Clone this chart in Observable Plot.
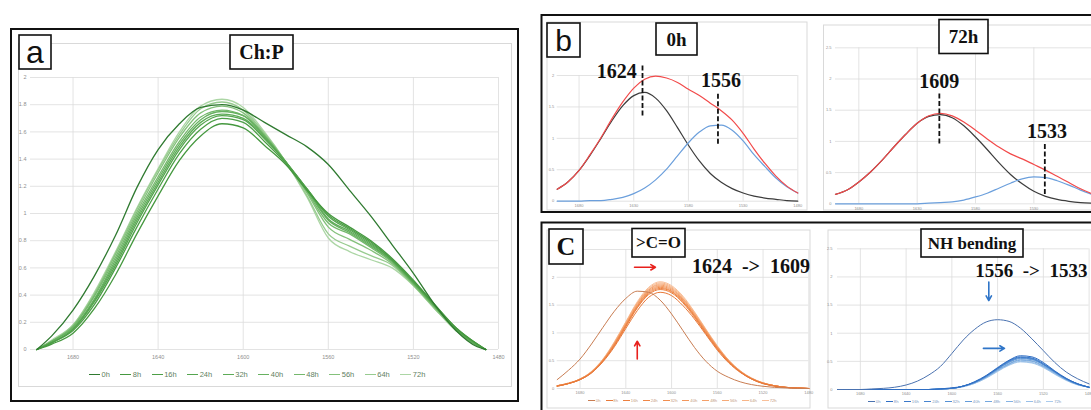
<!DOCTYPE html>
<html><head><meta charset="utf-8">
<script src="https://cdn.jsdelivr.net/npm/d3@7"></script>
<script src="https://cdn.jsdelivr.net/npm/@observablehq/plot@0.6"></script>
<style>
html,body{margin:0;padding:0;background:#fff;overflow:hidden;}
#root{position:relative;width:1091px;height:410px;overflow:hidden;background:#fff;}
.leg{position:absolute;display:flex;align-items:center;white-space:nowrap;font-family:"Liberation Sans",Arial,sans-serif;}
.leg .it{display:flex;align-items:center;}
.leg .sw{display:inline-block;}
svg text{white-space:pre;}
</style></head>
<body><div id="root"></div>
<script>
// ---------- shared ----------
const hours = ["0h","8h","16h","24h","32h","40h","48h","56h","64h","72h"];

// ---------- panel a : Ch:P ----------
const wnA = [1697,1690,1680,1670,1660,1650,1640,1630,1620,1610,1600,1590,1580,1570,1560,1550,1540,1530,1520,1510,1500,1490,1486];
const chp_0h  = [0,0.10,0.29,0.54,0.84,1.19,1.47,1.66,1.78,1.80,1.76,1.67,1.58,1.49,1.36,1.17,0.98,0.77,0.56,0.33,0.14,0.02,0];
const chp_8h  = [0,0.04,0.12,0.30,0.55,0.85,1.13,1.39,1.57,1.66,1.63,1.50,1.36,1.17,1.00,0.90,0.80,0.67,0.51,0.33,0.16,0.04,0];
const chp_16h = [0,0.05,0.14,0.33,0.60,0.90,1.18,1.44,1.62,1.70,1.67,1.53,1.37,1.18,0.99,0.89,0.79,0.66,0.50,0.33,0.16,0.04,0];
const chp_24h = [0,0.05,0.15,0.35,0.62,0.93,1.21,1.47,1.65,1.72,1.69,1.55,1.38,1.18,0.98,0.88,0.78,0.66,0.50,0.32,0.15,0.04,0];
const chp_32h = [0,0.05,0.15,0.36,0.64,0.95,1.23,1.49,1.67,1.73,1.70,1.56,1.38,1.18,0.96,0.87,0.77,0.65,0.49,0.32,0.15,0.03,0];
const chp_40h = [0,0.06,0.16,0.37,0.66,0.97,1.25,1.51,1.69,1.75,1.72,1.57,1.38,1.17,0.95,0.86,0.76,0.65,0.49,0.32,0.15,0.03,0];
const chp_48h = [0,0.06,0.17,0.39,0.68,0.99,1.27,1.53,1.71,1.76,1.72,1.57,1.38,1.16,0.93,0.85,0.75,0.64,0.48,0.31,0.15,0.03,0];
const chp_56h = [0,0.06,0.17,0.40,0.70,1.01,1.30,1.56,1.74,1.79,1.74,1.58,1.38,1.15,0.90,0.81,0.73,0.63,0.48,0.31,0.14,0.03,0];
const chp_64h = [0,0.06,0.18,0.41,0.71,1.03,1.32,1.58,1.77,1.82,1.76,1.59,1.38,1.13,0.85,0.76,0.69,0.62,0.47,0.30,0.14,0.03,0];
const chp_72h = [0,0.07,0.18,0.42,0.72,1.04,1.33,1.60,1.79,1.84,1.78,1.60,1.38,1.12,0.82,0.72,0.66,0.60,0.47,0.30,0.14,0.03,0];
const colorsA = ["#2f7a30","#45983f","#4d9f47","#55a54f","#5dab57","#67b160","#74b86c","#84c17b","#97cb8f","#acd6a5"];
const xTicksA = [1680,1640,1600,1560,1520,1480];
const yTicksA = [0,0.2,0.4,0.6,0.8,1,1.2,1.4,1.6,1.8,2];

// ---------- panel b : deconvolution ----------
const wnB = [1700,1690,1680,1670,1660,1650,1640,1630,1620,1610,1600,1590,1580,1570,1560,1550,1540,1530,1520,1510,1500,1490,1480];
const b0_black  = [0.19,0.31,0.49,0.73,1.00,1.28,1.52,1.68,1.73,1.64,1.44,1.17,0.89,0.64,0.44,0.30,0.20,0.13,0.08,0.05,0.03,0.01,0.00];
const b0_blue   = [0,0,0,0.01,0.01,0.03,0.06,0.12,0.21,0.34,0.51,0.72,0.93,1.10,1.20,1.21,1.13,0.96,0.74,0.55,0.37,0.23,0.13];
const b0_red    = [0.19,0.31,0.49,0.74,1.01,1.31,1.58,1.80,1.94,1.99,1.96,1.89,1.78,1.68,1.56,1.44,1.29,1.08,0.83,0.60,0.40,0.24,0.13];
const b72_black = [0.15,0.22,0.35,0.51,0.70,0.91,1.11,1.29,1.40,1.43,1.38,1.25,1.07,0.87,0.66,0.47,0.32,0.20,0.12,0.07,0.04,0.02,0.01];
const b72_blue  = [0,0,0,0,0,0,0,0,0.01,0.02,0.03,0.06,0.11,0.17,0.25,0.33,0.40,0.43,0.42,0.37,0.30,0.22,0.15];
const b72_red   = [0.15,0.22,0.35,0.51,0.70,0.91,1.11,1.29,1.41,1.45,1.41,1.31,1.18,1.04,0.91,0.80,0.72,0.63,0.54,0.44,0.34,0.24,0.16];
const xTicksB0 = [1680,1630,1580,1530,1480];
const xTicksB72 = [1680,1630,1580,1530];
const yTicksB0 = [0,0.5,1,1.5,2];
const yTicksB72 = [0,0.5,1,1.5,2,2.5];
// peak annotations (data units)
const peakText0h = ["1624","1556"];
const peakTextX0h = [1645.6,1550.2];
const peakTextY0h = [2.07,1.92];
const dashX0h = [1622,1553];
const dashTop0h = [2.15,1.70];
const dashBot0h = [1.34,0.88];
const peakText72h = ["1609","1533"];
const peakTextX72h = [1611,1518.8];
const peakTextY72h = [1.96,1.15];
const dashX72h = [1611,1520.6];
const dashTop72h = [1.76,0.95];
const dashBot72h = [0.93,0.13];

// ---------- panel c : >C=O and NH bending ----------
const wnC = [1700,1690,1680,1670,1660,1650,1640,1630,1620,1610,1600,1590,1580,1570,1560,1550,1540,1530,1520,1510,1500,1490,1480];
const co_0h  = [0.16,0.33,0.53,0.80,1.10,1.39,1.62,1.75,1.73,1.59,1.34,1.04,0.74,0.49,0.31,0.20,0.12,0.07,0.04,0.02,0.01,0.00,0.00];
const co_8h  = [0.04,0.09,0.16,0.28,0.48,0.75,1.08,1.40,1.64,1.73,1.67,1.49,1.25,0.97,0.69,0.46,0.29,0.17,0.09,0.04,0.02,0.01,0.00];
const co_16h = [0.04,0.09,0.16,0.28,0.49,0.77,1.11,1.45,1.69,1.78,1.72,1.54,1.28,0.99,0.71,0.48,0.30,0.17,0.09,0.05,0.02,0.01,0.00];
const co_24h = [0.05,0.09,0.16,0.29,0.50,0.78,1.13,1.46,1.71,1.80,1.74,1.56,1.30,1.00,0.72,0.48,0.30,0.17,0.09,0.05,0.02,0.01,0.00];
const co_32h = [0.05,0.09,0.16,0.29,0.50,0.79,1.14,1.48,1.73,1.82,1.75,1.57,1.31,1.02,0.73,0.49,0.30,0.18,0.09,0.05,0.02,0.01,0.00];
const co_40h = [0.05,0.09,0.17,0.29,0.51,0.80,1.15,1.49,1.75,1.84,1.77,1.59,1.32,1.03,0.74,0.49,0.31,0.18,0.10,0.05,0.02,0.01,0.00];
const co_48h = [0.05,0.09,0.17,0.30,0.51,0.81,1.16,1.51,1.77,1.86,1.79,1.61,1.34,1.04,0.75,0.50,0.31,0.18,0.10,0.05,0.02,0.01,0.00];
const co_56h = [0.05,0.09,0.17,0.30,0.52,0.82,1.18,1.53,1.78,1.88,1.81,1.62,1.35,1.05,0.75,0.50,0.31,0.18,0.10,0.05,0.02,0.01,0.00];
const co_64h = [0.05,0.10,0.17,0.30,0.52,0.83,1.19,1.54,1.80,1.90,1.83,1.64,1.37,1.06,0.76,0.51,0.32,0.18,0.10,0.05,0.02,0.01,0.00];
const co_72h = [0.05,0.10,0.17,0.31,0.53,0.84,1.20,1.56,1.82,1.92,1.85,1.66,1.38,1.07,0.77,0.51,0.32,0.19,0.10,0.05,0.02,0.01,0.00];
const nh_0h  = [0,0,0,0.01,0.02,0.04,0.08,0.15,0.26,0.41,0.64,0.88,1.07,1.20,1.24,1.21,1.09,0.90,0.69,0.48,0.31,0.19,0.10];
const nh_8h  = [0,0,0,0,0,0,0,0,0.00,0.01,0.03,0.06,0.14,0.25,0.39,0.52,0.60,0.58,0.48,0.33,0.20,0.10,0.04];
const nh_16h = [0,0,0,0,0,0,0,0,0.00,0.01,0.02,0.06,0.13,0.24,0.38,0.51,0.58,0.56,0.46,0.32,0.19,0.10,0.04];
const nh_24h = [0,0,0,0,0,0,0,0,0.00,0.01,0.02,0.06,0.13,0.24,0.37,0.50,0.57,0.55,0.45,0.32,0.19,0.10,0.04];
const nh_32h = [0,0,0,0,0,0,0,0,0.00,0.01,0.02,0.06,0.13,0.23,0.37,0.49,0.56,0.54,0.44,0.31,0.19,0.10,0.04];
const nh_40h = [0,0,0,0,0,0,0,0,0.00,0.01,0.02,0.06,0.13,0.23,0.36,0.48,0.55,0.53,0.44,0.31,0.18,0.09,0.04];
const nh_48h = [0,0,0,0,0,0,0,0,0.00,0.01,0.02,0.06,0.12,0.22,0.35,0.46,0.53,0.51,0.42,0.30,0.18,0.09,0.04];
const nh_56h = [0,0,0,0,0,0,0,0,0.00,0.01,0.02,0.06,0.12,0.22,0.34,0.45,0.52,0.50,0.41,0.29,0.17,0.09,0.04];
const nh_64h = [0,0,0,0,0,0,0,0,0.00,0.01,0.02,0.05,0.11,0.21,0.33,0.44,0.50,0.48,0.40,0.28,0.17,0.09,0.04];
const nh_72h = [0,0,0,0,0,0,0,0,0.00,0.01,0.02,0.05,0.11,0.20,0.32,0.43,0.49,0.47,0.39,0.27,0.16,0.08,0.04];
const colorsCO = ["#c97d52","#e8793a","#ec7f3e","#ef8646","#f18e50","#f3975c","#f5a069","#f6aa78","#f8b588","#f9c09a"];
const colorsNH = ["#4a72b0","#2f6ec4","#3a78c9","#4784cf","#5590d4","#649bd9","#74a7de","#86b3e3","#98bfe8","#aacbed"];
const xTicksC = [1680,1640,1600,1560,1520,1480];
const yTicksC = [0,0.5,1,1.5,2,2.5];
const shiftText = ["1624\u00a0\u00a0->\u00a0\u00a01609", "1556\u00a0\u00a0->\u00a0\u00a01533"];
const shiftTextX = [1530.6, 1530.5];
const shiftTextY = [2.20, 2.10];
const arrowsCO = {x1:[1632.4,1630], y1:[2.18,0.53], x2:[1614.1,1630], y2:[2.18,0.85]};
const arrowsNH = {x1:[1567.7,1572.4], y1:[1.91,0.73], x2:[1567.7,1554], y2:[1.58,0.73]};

// ---------- helpers ----------
const root = document.getElementById("root");
const toRows = (wn, vals) => wn.map((w, i) => ({wn: w, v: vals[i]}));
const zip = (o) => o.x1.map((_, i) => ({x1: o.x1[i], y1: o.y1[i], x2: o.x2[i], y2: o.y2[i]}));

// background layer: chart areas
const bg = d3.select(root).append("svg").attr("width",1091).attr("height",410)
  .style("position","absolute").style("left","0").style("top","0");
function rect(layer, x, y, w, h, stroke, sw, fill) {
  layer.append("rect").attr("x",x).attr("y",y).attr("width",w).attr("height",h)
    .attr("fill",fill||"none").attr("stroke",stroke).attr("stroke-width",sw);
}
rect(bg, 18.5, 43.5, 493, 343, "#d9d9d9", 1);
rect(bg, 547, 22, 260, 188, "#d9d9d9", 1);
rect(bg, 823.5, 25, 300, 185, "#d9d9d9", 1);
rect(bg, 547, 230, 263, 178, "#d9d9d9", 1);
rect(bg, 828, 230, 300, 178, "#d9d9d9", 1);

function chart(cfg) {
  const marks = [
    Plot.ruleY(cfg.yTicks, {stroke: "#dcdcdc", strokeWidth: 0.8}),
    Plot.ruleX(cfg.xTicks, {stroke: "#dcdcdc", strokeWidth: 0.8}),
    ...cfg.marks
  ];
  const svg = Plot.plot({
    width: cfg.w, height: cfg.h,
    marginLeft: cfg.ml, marginRight: cfg.mr, marginTop: cfg.mt, marginBottom: cfg.mb,
    style: {background: "transparent", overflow: "visible", color: "#8f8f8f",
            fontSize: cfg.fs + "px", fontFamily: "Liberation Sans, Arial, sans-serif"},
    x: {domain: [1480, 1700], reverse: true, ticks: cfg.xTicks, tickSize: 0, tickPadding: cfg.xpad,
        tickFormat: d => String(d), label: null},
    y: {domain: cfg.yDomain, ticks: cfg.yTicks, tickSize: 0, tickPadding: cfg.ypad,
        tickFormat: d => String(d), label: null},
    marks
  });
  const div = document.createElement("div");
  div.style.cssText = `position:absolute;left:${cfg.left}px;top:${cfg.top}px;width:${cfg.w}px;height:${cfg.h}px;overflow:visible;`;
  svg.style.maxWidth = "none";
  div.appendChild(svg);
  root.appendChild(div);
}

function seriesMarks(wn, list, colors, sw) {
  return list.map((vals, i) => Plot.line(toRows(wn, vals), {x: "wn", y: "v", stroke: colors[i], strokeWidth: sw, curve: "monotone-x"}));
}

const serifBold = {fontFamily: "Liberation Serif, Times New Roman, serif", fontWeight: "bold", fill: "#111"};

// panel a
chart({left: 18, top: 43, w: 494, h: 344, ml: 12, mr: 14, mt: 34, mb: 38, fs: 5.5, xpad: 6, ypad: 4,
  yDomain: [0, 2], xTicks: xTicksA, yTicks: yTicksA,
  marks: seriesMarks(wnA, [chp_0h,chp_8h,chp_16h,chp_24h,chp_32h,chp_40h,chp_48h,chp_56h,chp_64h,chp_72h].reverse(), colorsA.slice().reverse(), 1.3)
});

// panel b left (0h)
chart({left: 547, top: 22, w: 260, h: 188, ml: 9.7, mr: 9.7, mt: 53, mb: 9.3, fs: 4, xpad: 3, ypad: 3,
  yDomain: [0, 2], xTicks: xTicksB0, yTicks: yTicksB0,
  marks: [
    ...seriesMarks(wnB, [b0_black, b0_blue, b0_red], ["#3c3c3c", "#6b9fdc", "#f24a4a"], 1.2),
    Plot.ruleX(dashX0h.map((x, i) => ({x, y1: dashTop0h[i], y2: dashBot0h[i]})), {x: "x", y1: "y1", y2: "y2", stroke: "#111", strokeWidth: 1.8, strokeDasharray: "5,2.5"}),
    Plot.text(peakText0h.map((t, i) => ({t, x: peakTextX0h[i], y: peakTextY0h[i]})), {x: "x", y: "y", text: "t", fontSize: 20, ...serifBold})
  ]
});

// panel b right (72h)
chart({left: 823, top: 22, w: 280, h: 188, ml: 12, mr: 11.3, mt: 25.3, mb: 6.7, fs: 4, xpad: 3, ypad: 4,
  yDomain: [0, 2.5], xTicks: xTicksB72, yTicks: yTicksB72,
  marks: [
    ...seriesMarks(wnB, [b72_black, b72_blue, b72_red], ["#3c3c3c", "#6b9fdc", "#f24a4a"], 1.2),
    Plot.ruleX(dashX72h.map((x, i) => ({x, y1: dashTop72h[i], y2: dashBot72h[i]})), {x: "x", y1: "y1", y2: "y2", stroke: "#111", strokeWidth: 1.8, strokeDasharray: "5,2.5"}),
    Plot.text(peakText72h.map((t, i) => ({t, x: peakTextX72h[i], y: peakTextY72h[i]})), {x: "x", y: "y", text: "t", fontSize: 20, ...serifBold})
  ]
});

// panel c left (>C=O)
chart({left: 547, top: 230, w: 263, h: 178, ml: 9.7, mr: 1.7, mt: 19, mb: 20, fs: 4, xpad: 3, ypad: 3,
  yDomain: [0, 2.5], xTicks: xTicksC, yTicks: yTicksC,
  marks: [
    ...seriesMarks(wnC, [co_0h,co_8h,co_16h,co_24h,co_32h,co_40h,co_48h,co_56h,co_64h,co_72h].reverse(), colorsCO.slice().reverse(), 1),
    Plot.arrow(zip(arrowsCO), {x1: "x1", y1: "y1", x2: "x2", y2: "y2", stroke: "#e8201c", strokeWidth: 1.6, headLength: 5}),
    Plot.text([{t: shiftText[0], x: shiftTextX[0], y: shiftTextY[0]}], {x: "x", y: "y", text: "t", fontSize: 20, ...serifBold})
  ]
});

// panel c right (NH bending)
chart({left: 828, top: 230, w: 270, h: 178, ml: 9, mr: 9.4, mt: 18.3, mb: 19, fs: 4, xpad: 2.5, ypad: 5,
  yDomain: [0, 2.5], xTicks: xTicksC, yTicks: yTicksC,
  marks: [
    ...seriesMarks(wnC, [nh_0h,nh_8h,nh_16h,nh_24h,nh_32h,nh_40h,nh_48h,nh_56h,nh_64h,nh_72h].reverse(), colorsNH.slice().reverse(), 1),
    Plot.arrow(zip(arrowsNH), {x1: "x1", y1: "y1", x2: "x2", y2: "y2", stroke: "#2f75c8", strokeWidth: 1.6, headLength: 5}),
    Plot.text([{t: shiftText[1], x: shiftTextX[1], y: shiftTextY[1]}], {x: "x", y: "y", text: "t", fontSize: 19, ...serifBold})
  ]
});

// legends
function legend(left, top, colors, fs, lineW, gapItem, textColor) {
  const d = document.createElement("div");
  d.className = "leg";
  d.style.left = left + "px"; d.style.top = top + "px"; d.style.fontSize = fs + "px"; d.style.color = textColor;
  d.style.height = (fs * 1.4) + "px";
  hours.forEach((h, i) => {
    const it = document.createElement("span"); it.className = "it"; it.style.marginRight = gapItem + "px";
    const sw = document.createElement("span"); sw.className = "sw";
    sw.style.width = lineW + "px"; sw.style.height = Math.max(1, fs / 5) + "px"; sw.style.background = colors[i];
    sw.style.marginRight = (fs * 0.2) + "px";
    const tx = document.createElement("span"); tx.textContent = h;
    it.appendChild(sw); it.appendChild(tx); d.appendChild(it);
  });
  root.appendChild(d);
}
legend(89, 369, colorsA, 7.5, 11, 10.5, "#5f7f5f");
legend(588, 398, colorsCO, 4.2, 7, 5, "#c39a80");
legend(868, 399, colorsNH, 4.2, 7, 5.5, "#7f9cc4");

// overlay: panel frames and boxed labels
const ov = d3.select(root).append("svg").attr("width",1091).attr("height",410)
  .style("position","absolute").style("left","0").style("top","0").style("pointer-events","none");
rect(ov, 11, 29, 507, 372, "#111", 2);
rect(ov, 541.5, 15, 600, 197, "#111", 2);
rect(ov, 541.5, 222.5, 600, 220, "#111", 2);
function box(x, y, w, h, txt, family, size, weight) {
  rect(ov, x, y, w, h, "#111", 1.6, "#fff");
  ov.append("text").attr("x", x + w / 2).attr("y", y + h / 2).attr("text-anchor","middle")
    .attr("dominant-baseline","central").attr("font-family", family).attr("font-size", size)
    .attr("font-weight", weight).attr("fill","#111").text(txt);
}
const SERIF = "Liberation Serif, Times New Roman, serif";
const SANS = "Liberation Sans Narrow, Liberation Sans, Arial, sans-serif";
box(19, 35, 32, 34, "a", SANS, 32, "normal");
box(230, 35, 63, 34, "Ch:P", SERIF, 20, "bold");
box(547, 23, 33, 34, "b", SANS, 30, "normal");
box(656, 23, 41, 32, "0h", SERIF, 19, "bold");
box(939, 19.5, 49, 34, "72h", SERIF, 19, "bold");
box(549, 229, 34, 35, "C", SERIF, 26, "bold");
box(632, 228.5, 53, 28.5, ">C=O", SERIF, 17, "bold");
box(921, 229, 102, 28, "NH bending", SERIF, 17, "bold");
</script>
</body></html>
